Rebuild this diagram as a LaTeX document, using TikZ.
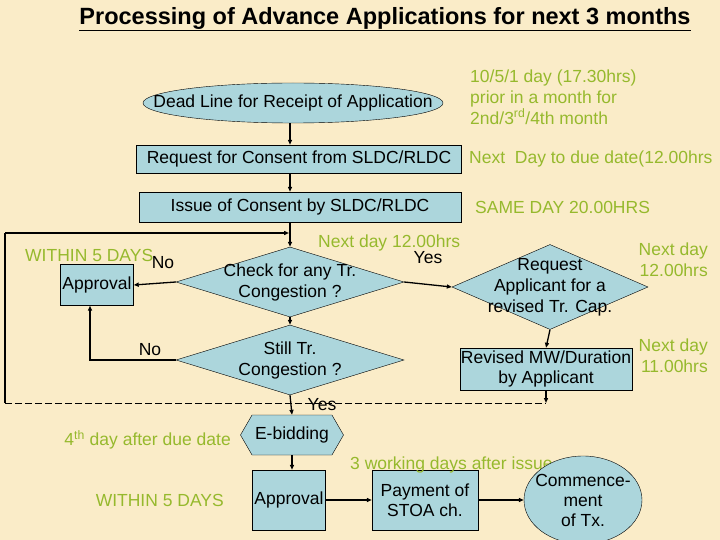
\documentclass[tikz,border=0pt]{standalone}
\usepackage{fontspec}
\setmainfont{Liberation Sans}
\usetikzlibrary{shapes.geometric,shapes.symbols,arrows.meta}
\definecolor{bg}{RGB}{250,236,200}
\definecolor{boxfill}{RGB}{172,214,220}
\definecolor{grn}{RGB}{150,185,45}
\tikzset{
 box/.style={draw=black,fill=boxfill,inner sep=0pt,align=center,font=\fontsize{17.5}{20}\selectfont},
 dia/.style={draw=black,fill=boxfill,diamond,inner sep=-14pt,align=center,font=\fontsize{17.5}{21}\selectfont},
 gtxt/.style={text=grn,font=\fontsize{17.5}{21}\selectfont,inner sep=0pt},
 btxt/.style={text=black,font=\fontsize{17.5}{20}\selectfont,inner sep=0pt},
 arr/.style={draw=black,line width=1.3pt,-{Triangle[length=5pt,width=4pt]}},
 ln/.style={draw=black,line width=1.3pt},
}
\begin{document}
\begin{tikzpicture}[x=1pt,y=-1pt]
\fill[bg] (0,0) rectangle (720,540);
\useasboundingbox (0,0) rectangle (720,540);
\node[font=\fontsize{23.5}{26}\selectfont\bfseries,inner sep=0pt] (title) at (385,19) {\underline{Processing of Advance Applications for next 3 months}};
\node[box,ellipse,minimum width=300pt,minimum height=40pt,inner sep=-34pt] (dead) at (293,103) {Dead Line for Receipt of Application};
\node[gtxt,anchor=west,align=left] (g1) at (470,97) {10/5/1 day (17.30hrs)\\prior in a month for\\2nd/3\textsuperscript{rd}/4th month};
\node[box,minimum width=325pt,minimum height=28pt] (req) at (299,159) {Request for Consent from SLDC/RLDC};
\node[gtxt,anchor=west] (g2) at (469,159) {Next\ \ Day to due date(12.00hrs};
\node[box,minimum width=322pt,minimum height=30pt] (iss) at (300,207) {Issue of Consent by SLDC/RLDC};
\node[gtxt,anchor=west] (g3) at (475,207) {SAME DAY 20.00HRS};
\node[dia,minimum width=228pt,minimum height=70pt,aspect=3.2] (chk) at (290,282) {Check for any Tr.\\Congestion ?};
\node[box,minimum width=73pt,minimum height=41pt] (appr) at (97,285) {Approval};
\node[gtxt,anchor=west] (g4) at (25,255) {WITHIN 5 DAYS};
\node[btxt] (no1) at (163,263) {No};
\node[gtxt,anchor=west] (g5) at (318,243) {Next day 12.00hrs};
\node[btxt] (yes1) at (428,258) {Yes};
\node[dia,minimum width=196pt,minimum height=85pt,aspect=2.3] (rq) at (550,287) {Request\\Applicant for a\\revised Tr. Cap.};
\node[gtxt,anchor=east,align=right] (g6) at (708,260) {Next day\\12.00hrs};
\node[box,minimum width=172pt,minimum height=42pt] (rev) at (546,369) {Revised MW/Duration\\by Applicant};
\node[gtxt,anchor=east,align=right] (g7) at (708,356) {Next day\\11.00hrs};
\node[dia,minimum width=228pt,minimum height=70pt,aspect=3.2] (still) at (290,360) {Still Tr.\\Congestion ?};
\node[btxt] (no2) at (150,350) {No};
\node[btxt] (yes2) at (322,405) {Yes};
\node[box,signal,signal to=east and west,signal pointer angle=120,minimum width=103pt,minimum height=40pt] (eb) at (292,435) {E-bidding};
\node[gtxt,anchor=east] (g8) at (231,440) {4\textsuperscript{th} day after due date};
\node[box,minimum width=73pt,minimum height=60pt] (appr2) at (289,500) {Approval};
\node[gtxt,anchor=east] (g9) at (224,500) {WITHIN 5 DAYS};
\node[box,minimum width=106pt,minimum height=60pt] (pay) at (425,500) {Payment of\\STOA ch.};
\node[gtxt,anchor=west] (g10) at (350,465) {3 working days after issue.};
\node[box,ellipse,minimum width=118pt,minimum height=88pt,inner sep=-10pt] (com) at (583,500) {Commence-\\ment\\of Tx.};
% connectors
\draw[arr] (dead.south -| 290,0) -- (req.north -| 290,0);
\draw[arr] (req.south -| 290,0) -- (iss.north -| 290,0);
\draw[arr] (iss.south -| 290,0) -- (chk.north);
\coordinate (fbL) at (5,233);
\coordinate (fbB) at (5,403);
\coordinate (dR) at (546,403);
\draw[arr] (fbL) -- (289,233);
\draw[ln] (fbB) -- (fbL);
\draw[ln,dash pattern=on 7pt off 3pt,line width=1pt] (fbB) -- (dR);
\draw[arr] (rev.south) -- (dR);
\draw[arr] (chk.west) -- (appr.east);
\draw[arr] (chk.east) -- (rq.west);
\draw[arr] (rq.south) -- (rev.north);
\draw[arr] (chk.south) -- (still.north);
\draw[arr] (still.west) -- (90,360) -- (appr.south -| 90,0);
\draw[arr] (still.south) -- (eb.north);
\draw[arr] (eb.south) -- (appr2.north -| eb.south);
\draw[arr] (appr2.east) -- (pay.west);
\draw[arr] (pay.east) -- (com.west);
\end{tikzpicture}
\end{document}
